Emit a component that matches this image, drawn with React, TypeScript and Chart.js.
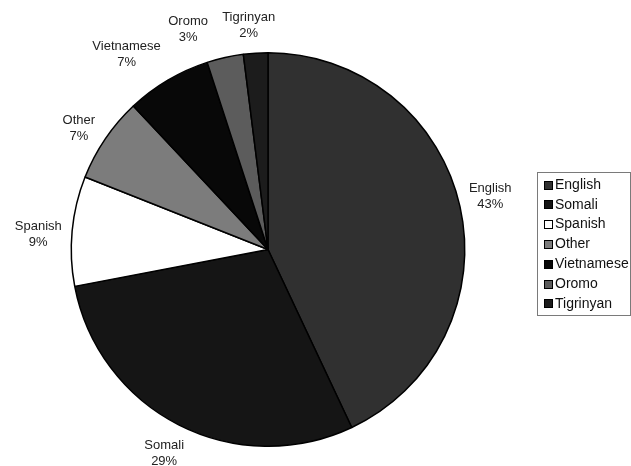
import { useEffect, useRef } from 'react';
import { Chart, registerables, type Plugin } from 'chart.js';

Chart.register(...registerables);

const languages = ['English', 'Somali', 'Spanish', 'Other', 'Vietnamese', 'Oromo', 'Tigrinyan'];
const shares = [43, 29, 9, 7, 7, 3, 2];
const sliceColors = ['#303030', '#151515', '#ffffff', '#7c7c7c', '#080808', '#5c5c5c', '#1c1c1c'];

const FONT = '"Liberation Sans", Arial, Helvetica, sans-serif';

// hand placement tweaks, mostly the small slices at the top that would collide
const labelNudge: Record<string, [number, number]> = {
  English: [-1, -3],
  Spanish: [-2, 6],
  Other: [0, 7],
  Vietnamese: [-25, 2],
  Oromo: [-30, 3],
  Tigrinyan: [-5, 4],
};

// name + percentage written just outside each slice
const sliceLabels: Plugin<'pie'> = {
  id: 'sliceLabels',
  afterDatasetsDraw(chart) {
    const { ctx } = chart;
    const meta = chart.getDatasetMeta(0);
    ctx.save();
    ctx.font = `13px ${FONT}`;
    ctx.fillStyle = '#222';
    ctx.textAlign = 'center';
    ctx.textBaseline = 'middle';
    meta.data.forEach((el, i) => {
      const { x, y, startAngle, endAngle, outerRadius } = el.getProps(
        ['x', 'y', 'startAngle', 'endAngle', 'outerRadius'], true
      ) as { x: number; y: number; startAngle: number; endAngle: number; outerRadius: number };
      const mid = (startAngle + endAngle) / 2;
      const r = outerRadius + 32;
      const [dx, dy] = labelNudge[languages[i]] ?? [0, 0];
      const px = x + Math.cos(mid) * r + dx;
      const py = y + Math.sin(mid) * r + dy;
      ctx.fillText(languages[i], px, py - 8);
      ctx.fillText(`${shares[i]}%`, px, py + 8);
    });
    ctx.restore();
  },
};

// boxed legend on the right, drawn by hand so the spacing matches the original
const boxedLegend: Plugin<'pie'> = {
  id: 'boxedLegend',
  afterDraw(chart) {
    const { ctx } = chart;
    const ds = chart.data.datasets[0];
    const colors = ds.backgroundColor as string[];
    const labels = chart.data.labels as string[];
    const left = chart.width - 94;
    const top = 172;
    const step = 19.8;
    ctx.save();
    ctx.strokeStyle = '#7a7a7a';
    ctx.lineWidth = 1;
    ctx.strokeRect(left + 0.5, top + 0.5, 93, 143);
    ctx.font = `14px ${FONT}`;
    ctx.textBaseline = 'middle';
    ctx.textAlign = 'left';
    labels.forEach((lab, i) => {
      const cy = top + 13 + i * step;
      ctx.fillStyle = colors[i];
      ctx.fillRect(left + 7, Math.round(cy - 4.5), 9, 9);
      ctx.strokeStyle = '#000';
      ctx.strokeRect(left + 7.5, Math.round(cy - 4.5) + 0.5, 8, 8);
      ctx.fillStyle = '#111';
      ctx.fillText(lab, left + 18, cy);
    });
    ctx.restore();
  },
};

export default function App() {
  const canvasRef = useRef<HTMLCanvasElement>(null);

  useEffect(() => {
    if (!canvasRef.current) return;
    const chart = new Chart(canvasRef.current, {
      type: 'pie',
      data: {
        labels: languages,
        datasets: [{
          data: shares,
          backgroundColor: sliceColors,
          borderColor: '#000',
          borderWidth: 1.5,
        }],
      },
      options: {
        responsive: true,
        maintainAspectRatio: false,
        animation: false,
        layout: { padding: { left: 0, right: 95, top: 52, bottom: 19 } },
        plugins: {
          tooltip: { enabled: false },
          legend: { display: false },
        },
      },
      plugins: [sliceLabels, boxedLegend],
    });
    return () => { chart.destroy(); };
  }, []);

  return (
    <div style={{ position: 'absolute', left: 0, top: 0, width: 631, height: 466, background: '#fff' }}>
      <canvas ref={canvasRef} />
    </div>
  );
}
